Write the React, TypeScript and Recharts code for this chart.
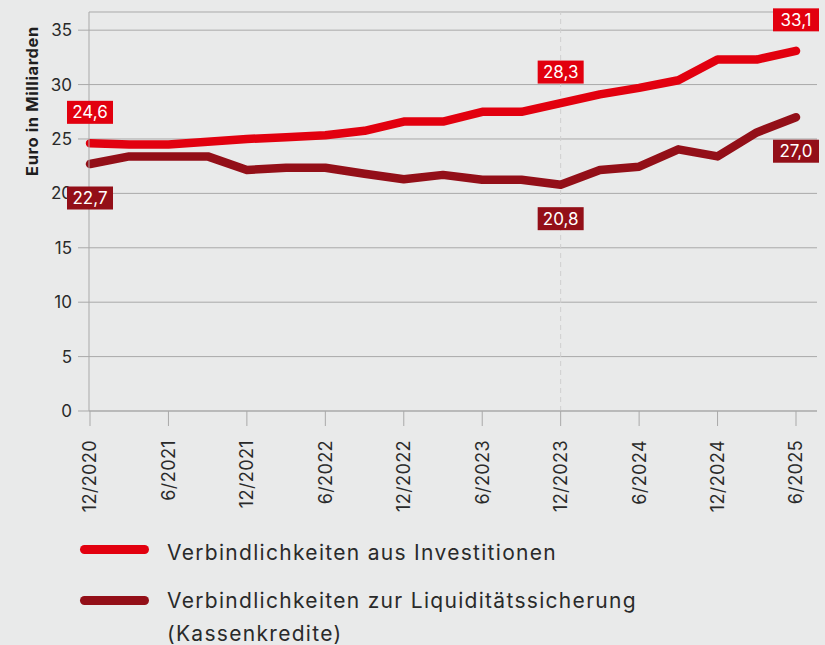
import React from 'react';
import { LineChart, Line, XAxis, YAxis, CartesianGrid, ReferenceLine, LabelList, Label } from 'recharts';

const categories = [
  '12/2020', '3/2021', '6/2021', '9/2021', '12/2021', '3/2022', '6/2022', '9/2022', '12/2022',
  '3/2023', '6/2023', '9/2023', '12/2023', '3/2024', '6/2024', '9/2024', '12/2024', '3/2025', '6/2025',
];
const investitionen = [24.6, 24.5, 24.5, 24.75, 25.0, 25.15, 25.35, 25.75, 26.6, 26.6, 27.5, 27.5, 28.3, 29.1, 29.7, 30.4, 32.3, 32.3, 33.1];
const kassenkredite = [22.7, 23.4, 23.4, 23.4, 22.15, 22.35, 22.35, 21.8, 21.3, 21.7, 21.25, 21.25, 20.8, 22.15, 22.45, 24.05, 23.4, 25.6, 27.0];
const yTicks = [0, 5, 10, 15, 20, 25, 30, 35];
const labeledIndices = [0, 12, 18];
const seriesNames = ['Verbindlichkeiten aus Investitionen', 'Verbindlichkeiten zur Liquiditätssicherung', '(Kassenkredite)'];
const yTitle = 'Euro in Milliarden';
const markerCategory = '12/2023';

const RED = '#e2000f';
const DARK = '#930f18';
const BG = '#e9eaea';
const GRID = '#a9a9a9';
const TEXT = '#2a2a2a';
const FONT = 'Inter, "Open Sans", sans-serif';

const data = categories.map((c, i) => ({ cat: c, inv: investitionen[i], kas: kassenkredite[i] }));

const fmt = (v: number) => v.toFixed(1).replace('.', ',');

const makeLabel = (color: string, offset: number) => (props: any) => {
  const { x, y, value, index } = props;
  if (!labeledIndices.includes(index)) return null;
  const w = 46;
  const h = 23;
  const cy = y + offset;
  return (
    <g>
      <rect x={x - w / 2} y={cy - h / 2} width={w} height={h} fill={color} />
      <text x={x} y={cy} dy="0.36em" textAnchor="middle" fill="#ffffff" fontSize={17} fontFamily={FONT}>
        {fmt(value)}
      </text>
    </g>
  );
};

const XTick = (props: any) => {
  const { x, y, payload } = props;
  return (
    <text
      x={0}
      y={0}
      dy="0.36em"
      textAnchor="end"
      fill={TEXT}
      fontSize={18}
      letterSpacing={0.4}
      fontFamily={FONT}
      transform={`translate(${x},${y}) rotate(-90)`}
    >
      {payload.value}
    </text>
  );
};

export default function App() {
  return (
    <div style={{ position: 'fixed', left: 0, top: 0, width: 825, height: 645, background: BG, overflow: 'hidden', fontFamily: FONT }}>
      <LineChart
        width={825}
        height={525}
        data={data}
        margin={{ top: 12, right: 8, bottom: 0, left: 0 }}
        style={{ position: 'absolute', left: 0, top: 0 }}
      >
        <CartesianGrid vertical={false} stroke={GRID} strokeWidth={1} />
        <ReferenceLine x={markerCategory} stroke="#cfcfcf" strokeDasharray="5 4" strokeWidth={1} />
        <XAxis
          dataKey="cat"
          interval={1}
          padding={{ left: 1, right: 21 }}
          height={114}
          tickSize={15}
          tickMargin={14}
          stroke={GRID}
          tickLine={{ stroke: GRID }}
          tick={<XTick />}
        />
        <YAxis
          domain={[0, 36.67]}
          ticks={yTicks}
          width={89}
          tickSize={11}
          tickMargin={6}
          stroke={GRID}
          tickLine={{ stroke: GRID }}
          tick={{ fill: TEXT, fontSize: 17, fontFamily: FONT }}
        >
          <Label
            content={() => (
              <text
                x={0}
                y={0}
                dy="0.36em"
                textAnchor="middle"
                fill="#1e1e1e"
                fontSize={16.5}
                fontWeight={700}
                letterSpacing={0.6}
                fontFamily={FONT}
                transform="translate(32,101) rotate(-90)"
              >
                {yTitle}
              </text>
            )}
          />
        </YAxis>
        <Line
          dataKey="kas"
          stroke={DARK}
          strokeWidth={8.5}
          strokeLinecap="round"
          strokeLinejoin="round"
          dot={false}
          activeDot={false}
          isAnimationActive={false}
        >
          <LabelList dataKey="kas" content={makeLabel(DARK, 34)} />
        </Line>
        <Line
          dataKey="inv"
          stroke={RED}
          strokeWidth={8.5}
          strokeLinecap="round"
          strokeLinejoin="round"
          dot={false}
          activeDot={false}
          isAnimationActive={false}
        >
          <LabelList dataKey="inv" content={makeLabel(RED, -31)} />
        </Line>
      </LineChart>
      <div style={{ position: 'absolute', left: 80, top: 545, width: 69, height: 9, borderRadius: 5, background: RED }} />
      <div style={{ position: 'absolute', left: 167, top: 536, fontSize: 21, letterSpacing: '1.3px', lineHeight: '33px', color: TEXT, whiteSpace: 'nowrap' }}>
        {seriesNames[0]}
      </div>
      <div style={{ position: 'absolute', left: 80, top: 596, width: 69, height: 9, borderRadius: 5, background: DARK }} />
      <div style={{ position: 'absolute', left: 167, top: 584, fontSize: 21, letterSpacing: '1.3px', lineHeight: '33px', color: TEXT, whiteSpace: 'nowrap' }}>
        {seriesNames[1]}
        <br />
        {seriesNames[2]}
      </div>
    </div>
  );
}
